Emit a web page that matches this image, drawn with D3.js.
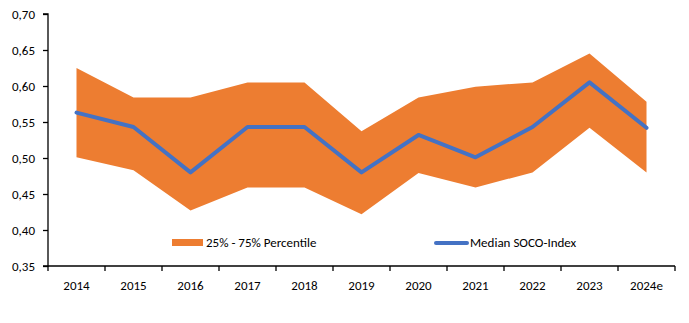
<!DOCTYPE html>
<html><head><meta charset="utf-8">
<script src="https://cdn.jsdelivr.net/npm/d3@7"></script>
<style>body{margin:0;background:#fff}svg{display:block}text{font-family:Calibri,Carlito,"Open Sans",sans-serif}</style>
</head><body>
<svg id="c" width="689" height="323"></svg>
<script>
const categories = ["2014","2015","2016","2017","2018","2019","2020","2021","2022","2023","2024e"];
const median = [0.563,0.543,0.480,0.543,0.543,0.480,0.532,0.501,0.543,0.605,0.542];
const upper  = [0.625,0.584,0.584,0.605,0.605,0.537,0.584,0.599,0.605,0.645,0.578];
const lower  = [0.501,0.483,0.427,0.459,0.459,0.422,0.479,0.459,0.480,0.542,0.480];
const yTicks = [0.35,0.40,0.45,0.50,0.55,0.60,0.65,0.70];

const svg = d3.select("#c");
const L = 48, R = 675, T = 14, B = 266;
const x = d3.scaleBand().domain(categories).range([L, R]);
const y = d3.scaleLinear().domain([0.35, 0.70]).range([B, T]);
const cx = d => x(d) + x.bandwidth()/2;
const fmt = v => d3.format(".2f")(v).replace(".", ",");

// band
const area = d3.area().x((d,i)=>cx(categories[i])).y0((d,i)=>y(lower[i])).y1((d,i)=>y(upper[i]));
svg.append("path").datum(upper).attr("d", area).attr("fill", "#ED7D31");

// median
const line = d3.line().x((d,i)=>cx(categories[i])).y(d=>y(d));
svg.append("path").datum(median).attr("d", line).attr("fill","none")
  .attr("stroke","#4472C4").attr("stroke-width",4).attr("stroke-linejoin","round").attr("stroke-linecap","round");

// y axis
const ya = svg.append("g").attr("transform",`translate(${L},0)`)
  .call(d3.axisLeft(y).tickValues(yTicks).tickFormat(fmt).tickSize(5).tickPadding(8));
ya.select(".domain").attr("stroke","#000").attr("stroke-width",1.3).attr("d",`M-5,${T}H0V${B}H-5`);
ya.selectAll(".tick line").attr("stroke","#000").attr("stroke-width",1.3);
ya.selectAll("text").attr("font-size",13).attr("fill","#000");

// x axis
const xa = svg.append("g").attr("transform",`translate(0,${B})`)
  .call(d3.axisBottom(x).tickSize(0).tickPadding(15));
xa.select(".domain").attr("stroke","#000").attr("stroke-width",1.3).attr("d",`M${L},0H${R}`);
xa.selectAll("text").attr("font-size",13).attr("fill","#000");
const bounds = categories.map(c=>x(c)).concat([R]);
svg.append("g").selectAll("line").data(bounds).join("line")
  .attr("x1",d=>d).attr("x2",d=>d).attr("y1",B).attr("y2",B+5)
  .attr("stroke","#000").attr("stroke-width",1.3);

// legend
const lg = svg.append("g");
lg.append("rect").attr("x",172).attr("y",239).attr("width",31).attr("height",7).attr("fill","#ED7D31");
lg.append("text").attr("x",206).attr("y",247).attr("font-size",13).attr("fill","#000").text("25% - 75% Percentile");
lg.append("line").attr("x1",436).attr("x2",467).attr("y1",243).attr("y2",243)
  .attr("stroke","#4472C4").attr("stroke-width",4).attr("stroke-linecap","round");
lg.append("text").attr("x",470).attr("y",247).attr("font-size",13).attr("fill","#000").text("Median SOCO-Index");
</script>
</body></html>
